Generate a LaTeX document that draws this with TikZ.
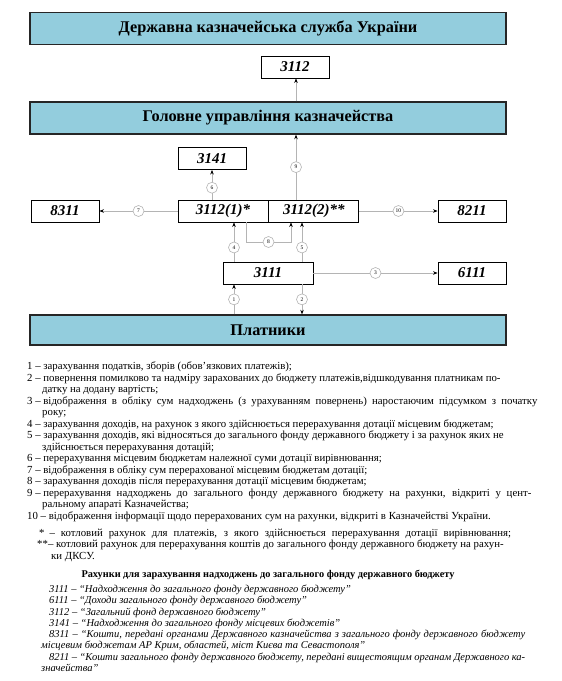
\documentclass[tikz,border=0pt]{standalone}
\usepackage{fontspec}
\setmainfont{Liberation Serif}
\usetikzlibrary{positioning,arrows.meta,calc}
\definecolor{kazblue}{HTML}{93CDDD}
\definecolor{linegray}{HTML}{B4B4B4}

\begin{document}
\begin{tikzpicture}[
  x=1pt, y=-1pt,
  every node/.style={inner sep=0pt},
  band/.style={rectangle, draw=black!85, line width=1.4pt, fill=kazblue,
               minimum width=476pt, minimum height=32pt,
               font=\fontsize{16.3}{18}\selectfont\bfseries},
  acc/.style={rectangle, draw=black, line width=0.9pt, fill=white,
              minimum width=68pt, minimum height=22pt,
              font=\fontsize{15}{17}\selectfont\bfseries\itshape},
  wideacc/.style={acc, minimum width=90pt},
  num/.style={circle, draw=linegray, fill=white, minimum size=11pt,
              font=\fontsize{5.5}{6}\selectfont},
  link/.style={draw=linegray, line width=0.6pt},
  arrow/.style={link, -{Stealth[length=4.5pt, width=3.5pt, black]}},
  legend/.style={anchor=north west, align=left,
                 font=\fontsize{10.8}{11.5}\selectfont}
]
  \useasboundingbox (0,0) rectangle (562,681);

  % blue bands
  \node[band] (dksu) at (268,28.5) {Державна казначейська служба України};
  \node[band] (head) at (268,118) {Головне управління казначейства};
  \node[band, minimum height=30pt] (payers) at (268,330) {Платники};

  % accounts
  \node[acc] (a3112) at (295,67) {3112};
  \node[acc] (a3141) at (212,158.5) {3141};
  \node[wideacc] (s1) at (223,211) {3112(1)*};
  \node[wideacc, right=0pt of s1] (s2) {3112(2)**};
  \node[acc] (a8311) at (65,211) {8311};
  \node[acc] (a8211) at (472,211) {8211};
  \node[wideacc] (a3111) at (268,273) {3111};
  \node[acc] (a6111) at (472,273) {6111};

  % columns of the vertical links
  \coordinate (x4) at (234,0);
  \coordinate (x5) at (302,0);
  \coordinate (x8) at (246,0);
  \coordinate (k8) at (291,242);
  \coordinate (x9) at (296,0);

  \draw[arrow] (payers.north -| x4) -- node[num]{1} (a3111.south -| x4);
  \draw[arrow] (a3111.south -| x5) -- node[num]{2} (payers.north -| x5);
  \draw[arrow] (a3111.east) -- node[num]{3} (a6111.west);
  \draw[arrow] (a3111.north -| x4) -- node[num, pos=0.36]{4} (s1.south -| x4);
  \draw[arrow] (a3111.north -| x5) -- node[num, pos=0.36]{5} (s2.south -| x5);
  \draw[arrow] (s1.north -| a3141) -- node[num, pos=0.4]{6} (a3141.south);
  \draw[arrow] (s1.west) -- node[num]{7} (a8311.east);
  \draw[arrow] (s1.south -| x8) |- node[num, pos=0.75]{8} (k8) -- (s2.south -| k8);
  \draw[arrow] (s2.north -| x9) -- node[num]{9} (head.south -| x9);
  \draw[arrow] (s2.east) -- node[num]{10} (a8211.west);
  \draw[arrow] (head.north -| x9) -- (a3112.south -| x9);

  % legend
  \node[legend] (legend) at (27,362) {%
    1 – зарахування податків, зборів (обов’язкових платежів);\\
    2 – повернення помилково та надміру зарахованих до бюджету платежів,відшкодування платникам по-\\
    \hspace*{15pt}датку на додану вартість;\\
    3 – \makebox[494pt][s]{відображення в обліку сум надходжень (з урахуванням повернень) наростаючим підсумком з початку}\\
    \hspace*{15pt}року;\\
    4 – зарахування доходів, на рахунок з якого здійснюється перерахування дотації місцевим бюджетам;\\
    5 – зарахування доходів, які відносяться до загального фонду державного бюджету і за рахунок яких не\\
    \hspace*{15pt}здійснюється перерахування дотацій;\\
    6 – перерахування місцевим бюджетам належної суми дотації вирівнювання;\\
    7 – відображення в обліку сум перерахованої місцевим бюджетам дотації;\\
    8 – зарахування доходів після перерахування дотації місцевим бюджетам;\\
    9 – \makebox[488pt][s]{перерахування надходжень до загального фонду державного бюджету на рахунки, відкриті у цент-}\\
    \hspace*{15pt}ральному апараті Казначейства;\\
    10 – відображення інформації щодо перерахованих сум на рахунки, відкриті в Казначействі України.};

  \node[legend] (notes) at (37,528.5) {%
    \hspace*{2pt}\makebox[472pt][s]{*\hspace{5pt}– котловий рахунок для платежів, з якого здійснюється перерахування дотації вирівнювання;}\\
    **– котловий рахунок для перерахування коштів до загального фонду державного бюджету на рахун-\\
    \hspace*{14pt}ки ДКСУ.};

  \node[font=\fontsize{10.3}{11.5}\selectfont\bfseries, anchor=base] (title) at (268,577.5)
    {Рахунки для зарахування надходжень до загального фонду державного бюджету};

  \node[legend, font=\fontsize{10.5}{11.25}\selectfont\itshape] (codes) at (41,585) {%
    \hspace*{8pt}3111 – “Надходження до загального фонду державного бюджету”\\
    \hspace*{8pt}6111 – “Доходи загального фонду державного бюджету”\\
    \hspace*{8pt}3112 – “Загальний фонд державного бюджету”\\
    \hspace*{8pt}3141 – “Надходження до загального фонду місцевих бюджетів”\\
    \hspace*{8pt}\makebox[476pt][s]{8311 – “Кошти, передані органами Державного казначейства з загального фонду державного бюджету}\\
    місцевим бюджетам АР Крим, областей, міст Києва та Севастополя”\\
    \hspace*{8pt}\makebox[476pt][s]{8211 – “Кошти загального фонду державного бюджету, передані вищестоящим органам Державного ка-}\\
    значейства”};
\end{tikzpicture}
\end{document}
